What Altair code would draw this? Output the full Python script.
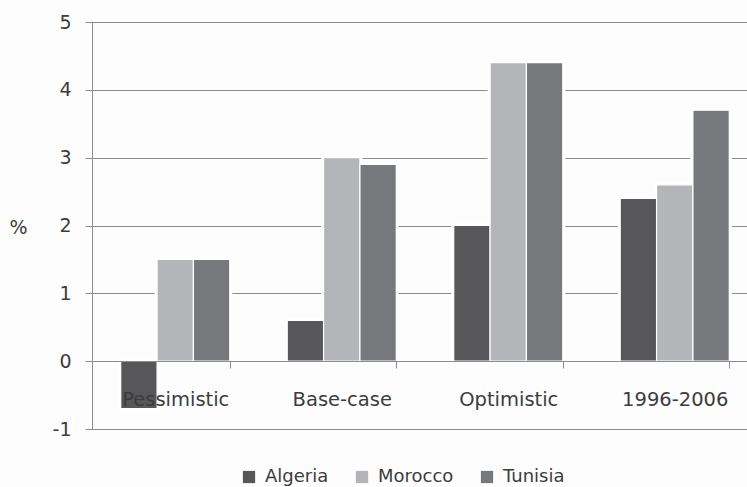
import altair as alt
import pandas as pd

# Growth scenarios, % per year
scenarios = ["Pessimistic", "Base-case", "Optimistic", "1996-2006"]
countries = ["Algeria", "Morocco", "Tunisia"]
algeria = [-0.7, 0.6, 2.0, 2.4]
morocco = [1.5, 3.0, 4.4, 2.6]
tunisia = [1.5, 2.9, 4.4, 3.7]
colors = ["#57575a", "#b4b5b8", "#77787b"]

rows = []
for name, vals in zip(countries, [algeria, morocco, tunisia]):
    for s, v in zip(scenarios, vals):
        rows.append({"scenario": s, "country": name, "value": v})
df = pd.DataFrame(rows)

font = "DejaVu Sans"
grid_col = "#8c8c8c"
text_col = "#3c3c3c"

x_enc = alt.X(
    "scenario:N",
    sort=scenarios,
    scale=alt.Scale(range=[0, 666], paddingInner=0.345, paddingOuter=0.1725),
    axis=alt.Axis(
        title=None,
        orient="bottom",
        offset=-68,
        zindex=1,
        tickBand="extent",
        tickSize=7,
        tickColor=grid_col,
        domainColor=grid_col,
        labelFont=font,
        labelFontSize=19.5,
        labelColor=text_col,
        labelPadding=22,
        labelAngle=0,
        labelOverlap=False,
    ),
)
y_enc = alt.Y(
    "value:Q",
    scale=alt.Scale(domain=[-1, 5], nice=False),
    axis=alt.Axis(
        values=[-1, 0, 1, 2, 3, 4, 5],
        labelExpr="'' + datum.value",
        title="%",
        titleAngle=0,
        titleX=-74,
        titleY=205,
        titleAlign="center",
        titleBaseline="middle",
        titleFont=font,
        titleFontSize=19,
        titleFontWeight="normal",
        titleColor=text_col,
        grid=True,
        gridColor=grid_col,
        gridWidth=1,
        domainColor=grid_col,
        tickColor=grid_col,
        tickSize=7,
        labelFont=font,
        labelFontSize=19,
        labelColor=text_col,
        labelPadding=14,
    ),
)
offset = alt.XOffset("country:N", sort=countries)

halo = alt.Chart(df).mark_bar(fill="white", stroke="white", strokeWidth=5).encode(
    x=x_enc, y=y_enc, xOffset=offset
)

bars = alt.Chart(df).mark_bar(stroke="white", strokeWidth=1.2).encode(
    x=alt.X("scenario:N", sort=scenarios),
    y="value:Q",
    xOffset=offset,
    color=alt.Color(
        "country:N",
        sort=countries,
        scale=alt.Scale(domain=countries, range=colors),
        legend=alt.Legend(
            title=None,
            orient="none",
            direction="horizontal",
            legendX=148,
            legendY=446,
            symbolType="square",
            symbolSize=150,
            symbolStrokeWidth=0,
            labelFont=font,
            labelFontSize=18,
            labelColor=text_col,
            labelOffset=7,
            columnPadding=24,
        ),
    ),
)

chart = (
    alt.layer(halo, bars)
    .properties(
        width=655,
        height=407,
        autosize=alt.AutoSizeParams(type="none"),
        padding={"left": 92, "top": 22, "right": 0, "bottom": 58},
        background="#fdfdfd",
    )
    .configure_view(stroke=None)
)

chart.save("out.html", embed_options={"renderer": "svg", "actions": False})
